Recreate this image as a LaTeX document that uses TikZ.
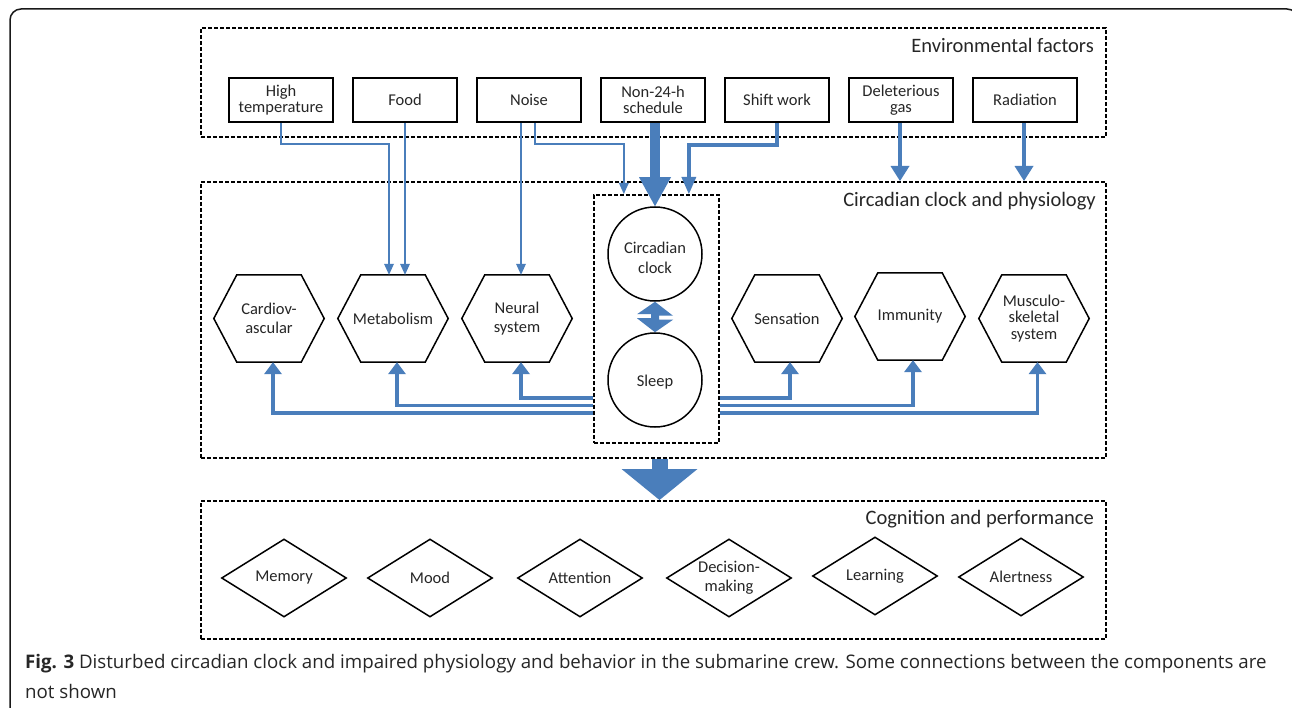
\documentclass[tikz,border=0pt]{standalone}
\usepackage{fontspec}
\setmainfont{Carlito}
\newfontfamily\capfont{Open Sans}
\usetikzlibrary{arrows.meta,calc}
\definecolor{cblue}{RGB}{74,126,187}
\definecolor{ink}{RGB}{38,38,38}
\begin{document}
\begin{tikzpicture}[x=1pt,y=-1pt,
  dashbox/.style={draw=black, line width=1.7pt, dash pattern=on 4pt off 2pt, inner sep=0pt},
  envbox/.style={draw=black, line width=1.7pt, minimum width=104pt, minimum height=44pt, inner sep=0pt, align=center, text=ink, font=\fontsize{16.5}{16.5}\selectfont},
  hexnode/.style={minimum width=110pt, minimum height=87pt, inner sep=0pt, align=center, text=ink, font=\fontsize{16.5}{19.5}\selectfont},
  hexline/.style={draw=black, line width=1.5pt},
  circnode/.style={circle, draw=black, line width=1.5pt, minimum size=94pt, inner sep=0pt},
  circtext/.style={text=ink, align=center, inner sep=0pt, font=\fontsize{16.5}{20}\selectfont},
  dianode/.style={minimum width=124pt, minimum height=77pt, inner sep=0pt, align=center, text=ink, font=\fontsize{16.5}{19}\selectfont},
  title/.style={anchor=east, inner sep=0pt, text=ink, font=\fontsize{20.5}{22}\selectfont},
  thinarr/.style={draw=cblue, line width=2pt, -{Triangle[length=11pt,width=10pt,line width=0pt]}},
  medarr/.style={draw=cblue, line width=3.6pt, -{Triangle[length=15pt,width=19pt,line width=0pt]}},
  botarr/.style={draw=cblue, line width=3.8pt, -{Triangle[length=12pt,width=18pt,line width=0pt]}},
  caption/.style={anchor=west, inner sep=0pt, text=ink, font=\capfont\fontsize{18.7}{20}\selectfont}
]
\path[use as bounding box, clip] (0,0) rectangle (1292,708);
\fill[white] (0,0) rectangle (1292,708);
\draw[line width=1.5pt, rounded corners=11pt, draw=black!90] (10,9) rectangle (1298,740);

% group boxes
\node[dashbox, minimum width=905pt, minimum height=109pt, anchor=north west] (env) at (200,27) {};
\node[dashbox, minimum width=905pt, minimum height=276pt, anchor=north west] (circ) at (200,181) {};
\node[dashbox, minimum width=125pt, minimum height=248pt, anchor=north west] (inner) at (593,194) {};
\node[dashbox, minimum width=905pt, minimum height=138pt, anchor=north west] (cog) at (200,500) {};

\node[title] (envt) at (1094,45) {Environmental factors};
\node[title] (circt) at (1096,201) {Circadian clock and physiology};
\node[title] (cogt) at (1094,519) {Cognition and performance};

% environmental factors
\node[envbox] (ht) at (281,100) {High\\temperature};
\node[envbox] (food) at (405,100) {Food};
\node[envbox] (noise) at (529,100) {Noise};
\node[envbox] (n24) at (653,100) {Non-24-h\\schedule};
\node[envbox] (sw) at (777,100) {Shift work};
\node[envbox] (dg) at (901,100) {Deleterious\\gas};
\node[envbox] (rad) at (1025,100) {Radiation};

% physiology
\node[hexnode] (cardio) at (269,318.5) {Cardiov-\\ascular};
\node[hexnode] (metab) at (393,318.5) {Metabolism};
\node[hexnode] (neural) at (517,318.5) {Neural\\system};
\node[hexnode] (sens) at (787,318.5) {Sensation};
\node[hexnode] (immun) at (910,316.5) {Immunity};
\node[hexnode, font=\fontsize{16.5}{16.5}\selectfont] (musc) at (1034,318.5) {Musculo-\\skeletal\\system};
\foreach \n in {cardio,metab,neural,sens,immun,musc}
  \draw[hexline] (\n.west) -- ([xshift=23pt]\n.north west) -- ([xshift=-23pt]\n.north east) -- (\n.east) -- ([xshift=-23pt]\n.south east) -- ([xshift=23pt]\n.south west) -- cycle;

\node[circnode] (clock) at (655,254) {};
\node[circtext] (clockt) at ([yshift=-3.5pt]clock.center) {Circadian\\clock};
\node[circnode] (sleep) at (655,380) {};
\node[circtext] (sleept) at ([yshift=-2pt]sleep.center) {Sleep};

% cognition
\node[dianode] (memory) at (284,578) {Memory};
\node[dianode] (mood) at (430,578) {Mood};
\node[dianode] (attn) at (580,578) {Attention};
\node[dianode] (dec) at (729,578) {Decision-\\making};
\node[dianode] (learn) at (875,576) {Learning};
\node[dianode] (alert) at (1021,577) {Alertness};
\foreach \n in {memory,mood,attn,dec,learn,alert}
  \draw[hexline] (\n.west) -- (\n.north) -- (\n.east) -- (\n.south) -- cycle;

% helper coordinates
\coordinate (hy) at (0,144);
\coordinate (hy2) at (0,145);
\coordinate (mA) at ([xshift=-4pt]metab.north);
\coordinate (nA) at ([xshift=-8pt]noise.south);
\coordinate (nB) at ([xshift=6pt]noise.south);
\coordinate (iA) at ([xshift=-32.5pt]inner.north);
\coordinate (iB) at ([xshift=32.5pt]inner.north);
\coordinate (bx) at (659.5,0);
\coordinate (b1) at (0,398);
\coordinate (b2) at (0,405.5);
\coordinate (b3) at (0,413);

% environmental connectors
\draw[thinarr] (ht.south) -- (ht.south |- hy) -| (mA);
\draw[thinarr] (food.south) -- (food.south |- metab.north);
\draw[thinarr] (nA) -- (nA |- neural.north);
\draw[thinarr] (nB) -- (nB |- hy) -| (iA);
\draw[draw=cblue, line width=10.5pt, -{Triangle[length=29pt,width=32pt,line width=0pt]}] (clock.north |- n24.south) -- (clock.north);
\draw[draw=cblue, line width=3.6pt, -{Triangle[length=17pt,width=15pt,line width=0pt]}] (sw.south) -- (sw.south |- hy2) -| (iB);
\draw[medarr] ([xshift=-1pt]dg.south) -- ([xshift=-1pt]dg.south |- circ.north);
\draw[medarr] ([xshift=-1pt]rad.south) -- ([xshift=-1pt]rad.south |- circ.north);

% clock <-> sleep
\fill[cblue] (clock.south) -- ++(18,14) -- ++(-14,0) -- ++(0,4) -- ++(14,0) -- (sleep.north) -- ++(-18,-14) -- ++(14,0) -- ++(0,-4) -- ++(-14,0) -- cycle;

% sleep box to physiology
\draw[botarr] (inner.west |- b1) -| ([xshift=4pt]neural.south);
\draw[botarr] (inner.west |- b2) -| ([xshift=4pt]metab.south);
\draw[botarr] (inner.west |- b3) -| ([xshift=4pt]cardio.south);
\draw[botarr] (inner.east |- b1) -| ([xshift=3pt]sens.south);
\draw[botarr] (inner.east |- b2) -| ([xshift=3pt]immun.south);
\draw[botarr] (inner.east |- b3) -| ([xshift=3.5pt]musc.south);

% big arrow down
\draw[draw=cblue, line width=16pt, -{Triangle[length=31pt,width=76pt,line width=0pt]}] (bx |- circ.south) -- (bx |- cog.north);

% caption
\node[caption] (cap1) at (25,664) {\textbf{Fig. 3} Disturbed circadian clock and impaired physiology and behavior in the submarine crew. Some connections between the components are};
\node[caption] (cap2) at (25,691) {not shown};
\end{tikzpicture}
\end{document}
